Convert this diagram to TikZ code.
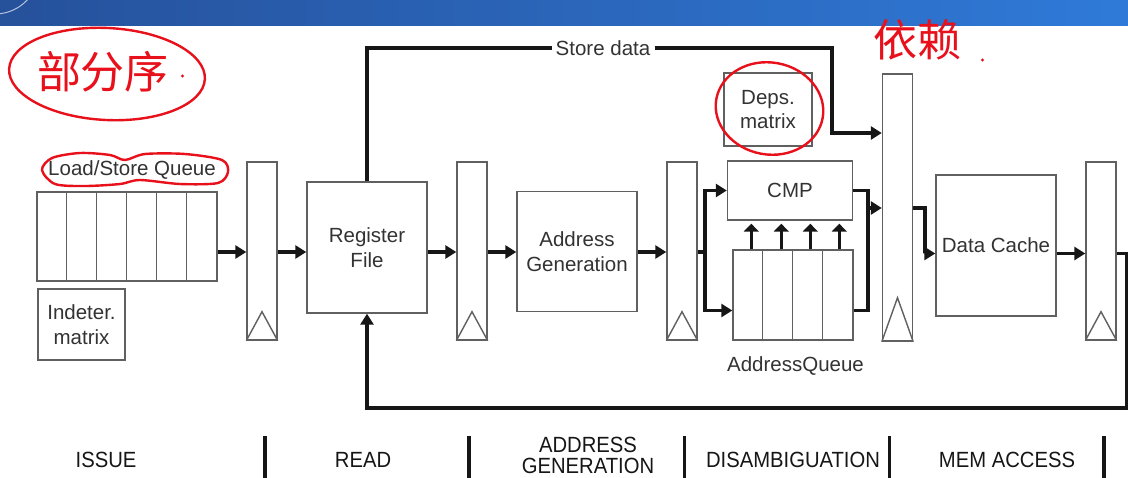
\documentclass[tikz,border=0pt]{standalone}
\usepackage{fontspec}
\setmainfont{Liberation Sans}
\newfontfamily\stagefont[FakeStretch=0.92]{Liberation Sans}
\newfontfamily\hand{Noto Sans CJK SC}
\usetikzlibrary{arrows.meta,calc}

\definecolor{ink}{HTML}{333333}
\definecolor{edgec}{HTML}{606060}
\definecolor{wirec}{HTML}{161616}
\definecolor{pen}{HTML}{E8101A}
\definecolor{bannerL}{HTML}{26519B}
\definecolor{bannerR}{HTML}{2F7AD8}

\begin{document}
\begin{tikzpicture}[x=1pt,y=-1pt,
  box/.style={draw=edgec,line width=1.4pt,fill=white,text=ink,align=center,
    font=\fontsize{20.5}{24.5}\selectfont,inner sep=0pt},
  latch/.style={draw=edgec,line width=1.4pt,minimum width=30pt,inner sep=0pt},
  lbl/.style={text=ink,font=\fontsize{20.5}{24.5}\selectfont,inner sep=0pt},
  wire/.style={draw=wirec,line width=3.2pt},
  arr/.style={wire,-{Triangle[length=11pt,width=13pt]}},
  tick/.style={draw=wirec,line width=2.6pt,-{Triangle[length=8pt,width=15pt]}},
  stage/.style={text=wirec,font=\stagefont\fontsize{22}{21}\selectfont,align=center,inner sep=0pt},
  bar/.style={draw=wirec,line width=3.8pt},
  ring/.style={draw=pen,line width=2.4pt},
  note/.style={text=pen,font=\hand\fontsize{44}{44}\selectfont,inner sep=0pt}
]
\useasboundingbox (0,0) rectangle (1128,477);
\fill[white] (0,0) rectangle (1128,477);

% title banner
\shade[left color=bannerL,right color=bannerR] (0,0) rectangle (1128,25);
\begin{scope}
  \clip (0,0) rectangle (1128,25);
  \draw[white!65!bannerL,line width=1pt] (-5,-30) circle (44);
\end{scope}

% row levels for the main data path
\coordinate (row) at (0,252);
\coordinate (aqrow) at (0,310.5);
\coordinate (row2) at (0,253.5);

% issue stage
\node[box,minimum width=180pt,minimum height=89pt] (lsq) at (127,236.5) {};
\foreach \i in {1,...,5}
  \draw[edgec,line width=1.4pt] ($(lsq.north west)+(30*\i,0)$) -- ($(lsq.south west)+(30*\i,0)$);
\node[lbl] (lsqlbl) at (132,170) {Load/Store Queue};
\node[box,minimum width=87pt,minimum height=71pt] (ind) at (81.5,324.5) {Indeter.\\matrix};

% pipeline latches
\node[latch,minimum height=178pt] (l1) at (262,251) {};
\node[latch,minimum height=178pt] (l2) at (472,251) {};
\node[latch,minimum height=178pt] (l3) at (682,251) {};
\node[latch,minimum height=267pt] (l4) at (897.5,207.5) {};
\node[latch,minimum height=178pt] (l5) at (1101,251) {};
\foreach \l/\h in {l1/29,l2/29,l3/29,l4/44,l5/29}
  \draw[edgec,line width=1.4pt] (\l.south west) -- ($(\l.south)+(0,-\h)$) -- (\l.south east);

% functional blocks
\node[box,minimum width=120pt,minimum height=131pt] (rf) at (367,247.5) {Register\\File};
\node[box,minimum width=120pt,minimum height=120pt] (ag) at (577,251.5) {Address\\Generation};
\node[box,minimum width=88pt,minimum height=73pt] (deps) at (768,109.5) {Deps.\\matrix};
\node[box,minimum width=125pt,minimum height=59pt] (cmp) at (790,190.5) {CMP};
\node[box,minimum width=120pt,minimum height=90pt] (aq) at (793,295) {};
\foreach \i in {1,2,3}
  \draw[edgec,line width=1.4pt] ($(aq.north west)+(30*\i,0)$) -- ($(aq.south west)+(30*\i,0)$);
\node[lbl] (aqlbl) at (795.5,366) {AddressQueue};
\node[box,minimum width=120pt,minimum height=141pt] (dc) at (996,245.5) {Data Cache};
\node[lbl,fill=white,inner xsep=4pt,inner ysep=2pt] (sd) at (603,48) {Store data};

% main data path
\draw[arr] (lsq.east |- row) -- (l1.west |- row);
\draw[arr] (l1.east |- row) -- (rf.west |- row);
\draw[arr] (rf.east |- row) -- (l2.west |- row);
\draw[arr] (l2.east |- row) -- (ag.west |- row);
\draw[arr] (ag.east |- row) -- (l3.west |- row);

% fork into compare logic and address queue
\coordinate (fork) at (705,252);
\draw[wire] (l3.east |- row) -- (fork);
\draw[arr] (fork) |- (cmp.west);
\draw[arr] (fork) |- (aq.west |- aqrow);
\foreach \o in {19,49,78,107}
  \draw[tick] ($(aq.north west)+(\o,0)$) -- ($(aq.north west |- cmp.south)+(\o,3)$);

% merge into the disambiguation latch
\coordinate (join) at (868,208);
\draw[wire] (cmp.east) -| (join);
\draw[wire] (aq.east |- aqrow) -| (join);
\draw[arr] (join) -- (l4.west |- join);

% store data bypass
\coordinate (sdturn) at (832,133);
\draw[wire] (rf.north) |- (sd.west);
\draw[arr] (sd.east) -| (sdturn) -- (l4.west |- sdturn);

% memory access
\coordinate (l4out) at (925,208);
\draw[arr] (l4.east |- join) -- (l4out) |- (dc.west |- row2);
\draw[arr] (dc.east |- row2) -- (l5.west |- row2);

% writeback to register file
\coordinate (fbr) at (1126.5,408);
\draw[arr] (l5.east |- row2) -| (fbr) -| (rf.south);

% stage names
\node[stage] (s1) at (106,460) {ISSUE};
\node[stage] (s2) at (363,460) {READ};
\node[stage] (s3) at (588,455) {ADDRESS\\GENERATION};
\node[stage] (s4) at (793,460) {DISAMBIGUATION};
\node[stage] (s5) at (1007,460) {MEM ACCESS};
\foreach \x in {265,469,684.5,889.5,1104}
  \draw[bar] (\x,436) -- (\x,481);

% handwritten notes
\node[note] (n1) at (103,72) {部分序};
\fill[pen] (182.5,76) circle (1.6);
\draw[ring,rotate around={-3:(107,74)}] (107,74) ellipse (98 and 46);
\draw[ring] plot[smooth cycle] coordinates {(42,170) (52,158) (80,153) (110,155) (125,160)
  (145,154) (185,154) (222,160) (228,172) (218,183) (180,184) (140,180) (120,184) (85,186) (55,184)};
\draw[ring,rotate around={-10:(769.5,108.5)}] (769.5,108.5) ellipse (54 and 46);
\node[note] (n2) at (917,40) {依赖};
\fill[pen] (982.5,60) circle (1.6);
\end{tikzpicture}
\end{document}
